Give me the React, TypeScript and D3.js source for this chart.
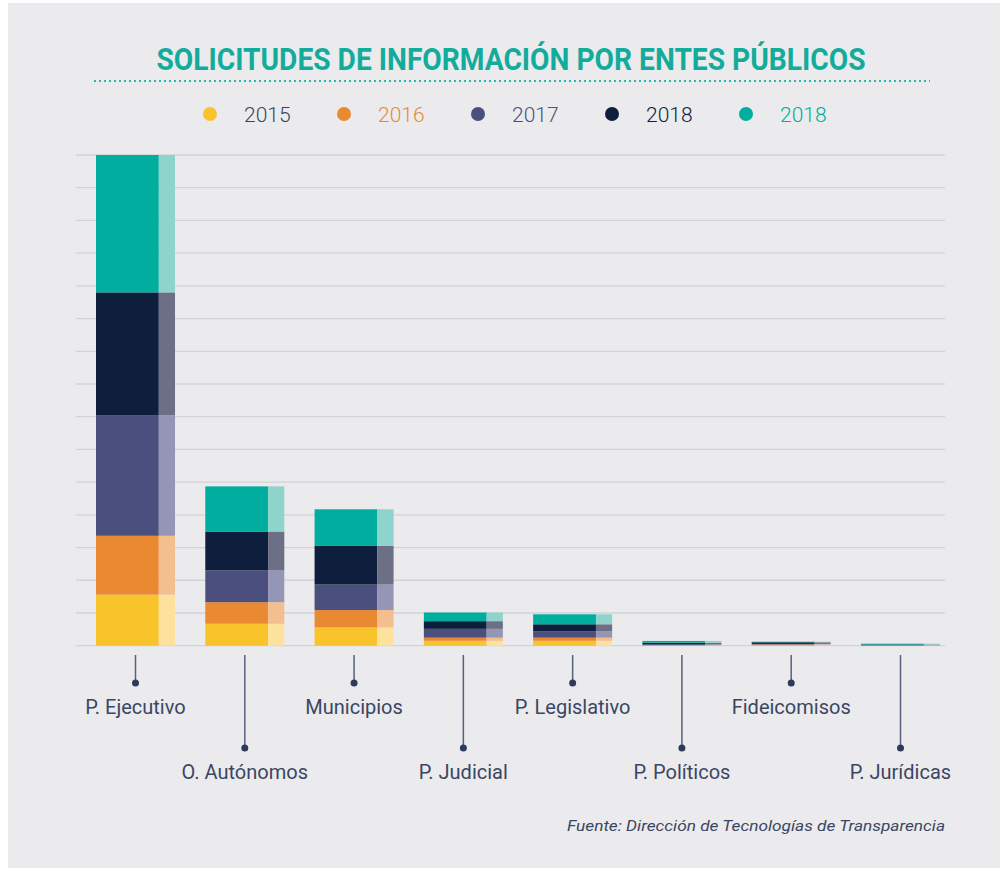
import React from 'react';
import * as d3 from 'd3';

// entes publicos, left to right
const categories = [
  'P. Ejecutivo',
  'O. Autónomos',
  'Municipios',
  'P. Judicial',
  'P. Legislativo',
  'P. Políticos',
  'Fideicomisos',
  'P. Jurídicas',
];

// legend labels (the source repeats 2018)
const years = ['2015', '2016', '2017', '2018', '2018'];

// solicitudes per year
const values2015 = [1560, 670, 560, 150, 150, 8, 10, 5];
const values2016 = [1800, 660, 530, 95, 95, 8, 30, 3];
const values2017 = [3690, 970, 780, 270, 190, 20, 15, 10];
const values2018 = [3750, 1190, 1180, 235, 220, 55, 50, 18];
const values2018b = [4200, 1380, 1120, 265, 305, 55, 17, 25];

const yTicks = d3.range(0, 15001, 1000);

const colors = ['#f9c32c', '#e98a33', '#4b4f7e', '#0e1f3e', '#00ae9f'];
const lightColors = ['#fde29e', '#f4bf8f', '#9596b5', '#6d6f86', '#8fd4cc'];
const legendText = ['#3b4561', '#e98a33', '#4b4f7e', '#0e1f3e', '#00ae9f'];

const W = 1003;
const H = 871;

const App: React.FC = () => {
  const series = [values2015, values2016, values2017, values2018, values2018b];

  const rows = categories.map((c, i) => {
    const row: { [k: string]: number | string } = { cat: c };
    series.forEach((s, j) => (row['s' + j] = s[i]));
    return row;
  });
  const keys = series.map((_, j) => 's' + j);
  const stacked = d3.stack<any>().keys(keys)(rows);

  const x = d3
    .scaleBand()
    .domain(categories)
    .range([96, 940])
    .paddingInner(0.277)
    .paddingOuter(0);
  const y = d3.scaleLinear().domain([0, 15000]).range([645.7, 155]);

  const bw = x.bandwidth();
  const mainW = bw * 0.795;

  const legendX = d3.scalePoint<number>().domain(d3.range(years.length)).range([210, 746]);

  const font = 'Roboto, "Noto Sans", sans-serif';

  return (
    <svg
      width={W}
      height={H}
      style={{ position: 'absolute', left: 0, top: 0, background: '#fff' }}
    >
      <rect x={8} y={3} width={992} height={865} fill="#ebebed" />

      <text
        x={511}
        y={70}
        textAnchor="middle"
        fontFamily={font}
        fontWeight={700}
        fontSize={32}
        fill="#13ab9c"
        textLength={709}
        lengthAdjust="spacingAndGlyphs"
      >
        SOLICITUDES DE INFORMACIÓN POR ENTES PÚBLICOS
      </text>
      <line
        x1={94}
        x2={930}
        y1={81}
        y2={81}
        stroke="#2fb6a8"
        strokeWidth={2}
        strokeDasharray="2 3"
      />

      {/* legend */}
      {years.map((yr, i) => (
        <g key={i} transform={`translate(${legendX(i)},114)`}>
          <circle r={7} fill={colors[i]} />
          <text
            x={34}
            y={8}
            fontFamily={font}
            fontWeight={300}
            fontSize={21}
            fill={legendText[i]}
          >
            {yr}
          </text>
        </g>
      ))}

      {/* grid */}
      {yTicks.map((t) => (
        <line
          key={t}
          x1={76}
          x2={945}
          y1={y(t)}
          y2={y(t)}
          stroke="#d3d3d7"
          strokeWidth={1.3}
        />
      ))}

      {/* bars */}
      {stacked.map((layer, j) => (
        <g key={j}>
          {layer.map((d, i) => {
            const x0 = x(categories[i]) as number;
            const top = y(d[1]);
            const h = y(d[0]) - y(d[1]);
            return (
              <g key={i}>
                <rect x={x0} y={top} width={mainW} height={h} fill={colors[j]} />
                <rect
                  x={x0 + mainW}
                  y={top}
                  width={bw - mainW}
                  height={h}
                  fill={lightColors[j]}
                />
              </g>
            );
          })}
        </g>
      ))}

      {/* category labels */}
      {categories.map((c, i) => {
        const cx = (x(c) as number) + bw / 2;
        const low = i % 2 === 1;
        const dotY = low ? 748 : 683;
        return (
          <g key={c}>
            <line x1={cx} x2={cx} y1={655} y2={dotY} stroke="#56617c" strokeWidth={1.5} />
            <circle cx={cx} cy={dotY} r={3.5} fill="#2c3b59" />
            <text
              x={cx}
              y={dotY + 31}
              textAnchor="middle"
              fontFamily={font}
              fontSize={20}
              fill="#3a4663"
            >
              {c}
            </text>
          </g>
        );
      })}

      <text
        x={945}
        y={831}
        textAnchor="end"
        fontFamily={font}
        fontStyle="italic"
        fontSize={15}
        fill="#3a4663"
        textLength={378}
        lengthAdjust="spacingAndGlyphs"
      >
        Fuente: Dirección de Tecnologías de Transparencia
      </text>
    </svg>
  );
};

export default App;
